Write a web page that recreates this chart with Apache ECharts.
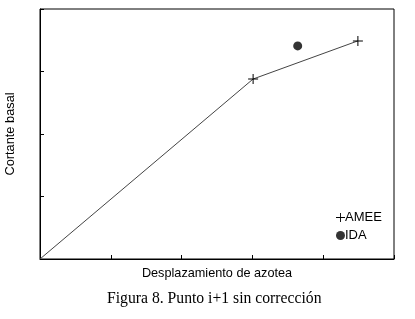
<!DOCTYPE html>
<html>
<head>
<meta charset="utf-8">
<script src="https://cdn.jsdelivr.net/npm/echarts@6/dist/echarts.min.js"></script>
<style>
  html, body { margin: 0; padding: 0; background: #fff; }
  #chart { width: 415px; height: 319px; }
</style>
</head>
<body>
<div id="chart"></div>
<script>
// data (axes have no numeric labels, units are tick steps)
var ameeX = [0, 3.01, 4.49];
var ameeY = [0, 2.88, 3.49];
var idaX = [3.64];
var idaY = [3.41];
var xTicks = { min: 0, max: 5, step: 1 };
var yTicks = { min: 0, max: 4, step: 1 };

var plus = 'path://M0,4.5h10v1h-10zM4.5,0h1v10h-1z';
var sans = 'Liberation Sans, Arial, sans-serif';

var amee = ameeX.map(function(x, i) {
  var p = { value: [x, ameeY[i]] };
  if (i === 0) p.symbol = 'none';
  return p;
});
var ida = idaX.map(function(x, i) { return [x, idaY[i]]; });

var chart = echarts.init(document.getElementById('chart'), null, { renderer: 'canvas' });
chart.setOption({
  animation: false,
  backgroundColor: '#fff',
  title: {
    text: 'Figura 8. Punto i+1 sin corrección',
    left: 102, top: 286,
    textStyle: { fontFamily: 'Liberation Serif, Times New Roman, serif', fontSize: 15.7, fontWeight: 'normal', color: '#000' }
  },
  grid: {
    left: 40, top: 9, right: 21, bottom: 60,
    outerBoundsMode: 'none', containLabel: false,
    show: true, borderColor: '#000', borderWidth: 1
  },
  legend: {
    orient: 'vertical', left: 331, top: 206, itemGap: 5,
    itemWidth: 9, itemHeight: 9, itemStyle: { color: '#000' },
    textStyle: { fontFamily: sans, fontSize: 13, color: '#000', padding: [0, 0, 0, -5] },
    data: [{ name: 'AMEE', icon: plus }, { name: 'IDA', icon: 'circle' }]
  },
  xAxis: {
    type: 'value', min: xTicks.min, max: xTicks.max, interval: xTicks.step,
    name: 'Desplazamiento de azotea', nameLocation: 'middle', nameGap: 8,
    nameTextStyle: { fontFamily: sans, fontSize: 12.7, color: '#000' },
    axisLine: { lineStyle: { color: '#000', width: 1 } },
    axisTick: { show: true, inside: true, length: 4, lineStyle: { color: '#000' } },
    axisLabel: { show: false },
    splitLine: { show: false }
  },
  yAxis: {
    type: 'value', min: yTicks.min, max: yTicks.max, interval: yTicks.step,
    name: 'Cortante basal', nameLocation: 'middle', nameGap: 23,
    nameTextStyle: { fontFamily: sans, fontSize: 12.8, color: '#000' },
    axisLine: { show: true, lineStyle: { color: '#000', width: 1 } },
    axisTick: { show: true, inside: true, length: 4, lineStyle: { color: '#000' } },
    axisLabel: { show: false },
    splitLine: { show: false }
  },
  series: [
    {
      name: 'AMEE', type: 'line', data: amee,
      symbol: plus, symbolSize: 10, showSymbol: true,
      itemStyle: { color: '#000' },
      lineStyle: { color: '#444', width: 1 }
    },
    {
      name: 'IDA', type: 'scatter', data: ida,
      symbol: 'circle', symbolSize: 9,
      itemStyle: { color: '#000' }
    }
  ]
});
</script>
</body>
</html>
